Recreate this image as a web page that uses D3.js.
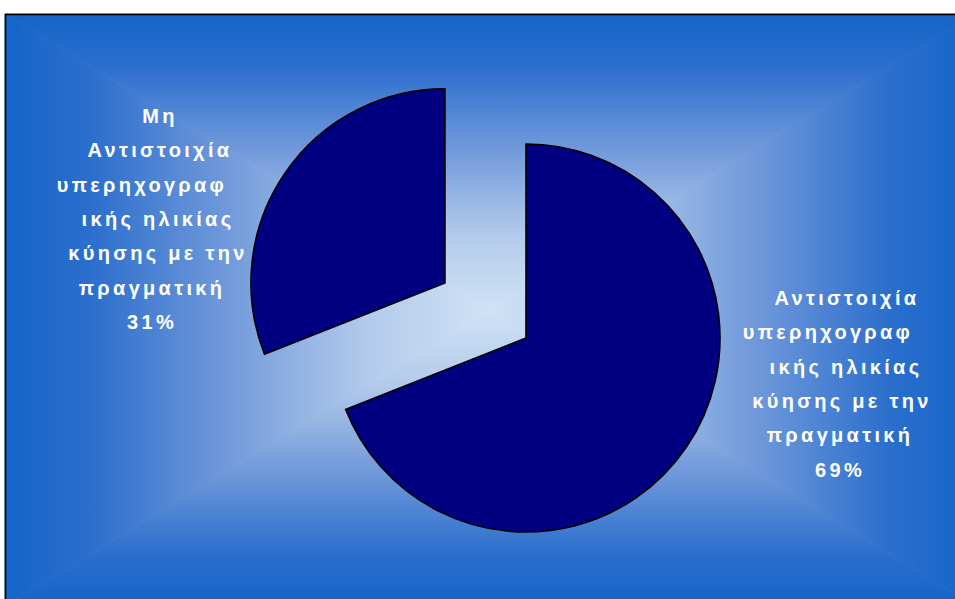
<!DOCTYPE html>
<html>
<head>
<meta charset="utf-8">
<script src="https://cdn.jsdelivr.net/npm/d3@7"></script>
<style>
  html, body { margin: 0; padding: 0; background: #ffffff; }
  svg { display: block; }
</style>
</head>
<body>
<svg id="chart" width="955" height="599"></svg>
<script>
// Share of ultrasound gestational age matching the actual gestational age
const categories = [
  ["Αντιστοιχία", "υπερηχογραφ", "ικής ηλικίας", "κύησης με την", "πραγματική"],
  ["Μη", "Αντιστοιχία", "υπερηχογραφ", "ικής ηλικίας", "κύησης με την", "πραγματική"]
];
const values = [69, 31];
const percentLabels = ["69%", "31%"];

const svg = d3.select("#chart");

// Frame of the chart area (extends past the right/bottom of the view)
const frame = { x: 5, y: 14, w: 970, h: 592 };
const fcx = frame.x + frame.w / 2, fcy = frame.y + frame.h / 2;

// Rectangular "from centre" gradient: four triangles, each with a linear ramp
const defs = svg.append("defs");
const stops = [
  [0, "#1464c8"], [0.18, "#2c6fcd"], [0.45, "#6f98da"], [0.75, "#b3cbeb"], [1, "#cfe2f5"]
];
const sides = [
  { id: "gTop",    x1: 0, y1: 0, x2: 0, y2: 1, pts: [[frame.x, frame.y], [frame.x + frame.w, frame.y], [fcx, fcy]] },
  { id: "gBottom", x1: 0, y1: 1, x2: 0, y2: 0, pts: [[frame.x, frame.y + frame.h], [frame.x + frame.w, frame.y + frame.h], [fcx, fcy]] },
  { id: "gLeft",   x1: 0, y1: 0, x2: 1, y2: 0, pts: [[frame.x, frame.y], [frame.x, frame.y + frame.h], [fcx, fcy]] },
  { id: "gRight",  x1: 1, y1: 0, x2: 0, y2: 0, pts: [[frame.x + frame.w, frame.y], [frame.x + frame.w, frame.y + frame.h], [fcx, fcy]] }
];
sides.forEach(s => {
  const g = defs.append("linearGradient").attr("id", s.id)
    .attr("x1", s.x1).attr("y1", s.y1).attr("x2", s.x2).attr("y2", s.y2);
  stops.forEach(([o, c]) => g.append("stop").attr("offset", o).attr("stop-color", c));
});
const bg = svg.append("g");
sides.forEach(s => {
  bg.append("polygon")
    .attr("points", s.pts.map(p => p.join(",")).join(" "))
    .attr("fill", `url(#${s.id})`)
    .attr("stroke", `url(#${s.id})`)
    .attr("stroke-width", 0.8);
});
svg.append("rect")
  .attr("x", frame.x + 0.5).attr("y", frame.y + 0.5)
  .attr("width", frame.w).attr("height", frame.h)
  .attr("fill", "none").attr("stroke", "#000").attr("stroke-width", 1.6);

// Pie
const center = [526, 338];
const radius = 194;
const explode = [0, 98]; // offset of each slice along its mid angle

const pie = d3.pie().sort(null).startAngle(0).endAngle(2 * Math.PI);
const arcs = pie(values);
const arc = d3.arc().innerRadius(0).outerRadius(radius);

const pieG = svg.append("g").attr("transform", `translate(${center[0]},${center[1]})`);
pieG.selectAll("path.slice")
  .data(arcs)
  .join("path")
  .attr("class", "slice")
  .attr("transform", (d, i) => {
    const mid = (d.startAngle + d.endAngle) / 2;
    const off = explode[i];
    return `translate(${off * Math.sin(mid)},${-off * Math.cos(mid)})`;
  })
  .attr("d", arc)
  .attr("fill", "#000080")
  .attr("stroke", "#000")
  .attr("stroke-width", 1.6)
  .attr("stroke-linejoin", "miter");

// Data labels (category name wrapped over several lines + percentage)
const labelBoxes = [
  { cx: 847, top: 305, dx: [0, -19, -1, -5, -7, -7], clip: [742, 270, 191, 220] },
  { cx: 160, top: 123, dx: [0, 0, -18, -2, -2, -8, -8], clip: [56, 90, 189, 250] }
];
const lineH = 34.3;
labelBoxes.forEach((b, i) => {
  const cid = "clipLabel" + i;
  defs.append("clipPath").attr("id", cid)
    .append("rect").attr("x", b.clip[0]).attr("y", b.clip[1])
    .attr("width", b.clip[2]).attr("height", b.clip[3]);
  const lines = categories[i].concat([percentLabels[i]]);
  svg.append("g").attr("clip-path", `url(#${cid})`)
    .selectAll("text")
    .data(lines)
    .join("text")
    .attr("x", (d, k) => b.cx + b.dx[k])
    .attr("y", (d, k) => b.top + k * lineH)
    .attr("text-anchor", "middle")
    .attr("font-family", "Liberation Sans, Arial, sans-serif")
    .attr("font-weight", "bold")
    .attr("font-size", 20)
    .attr("letter-spacing", 3.3)
    .attr("fill", "#ffffff")
    .text(d => d);
});
</script>
</body>
</html>
